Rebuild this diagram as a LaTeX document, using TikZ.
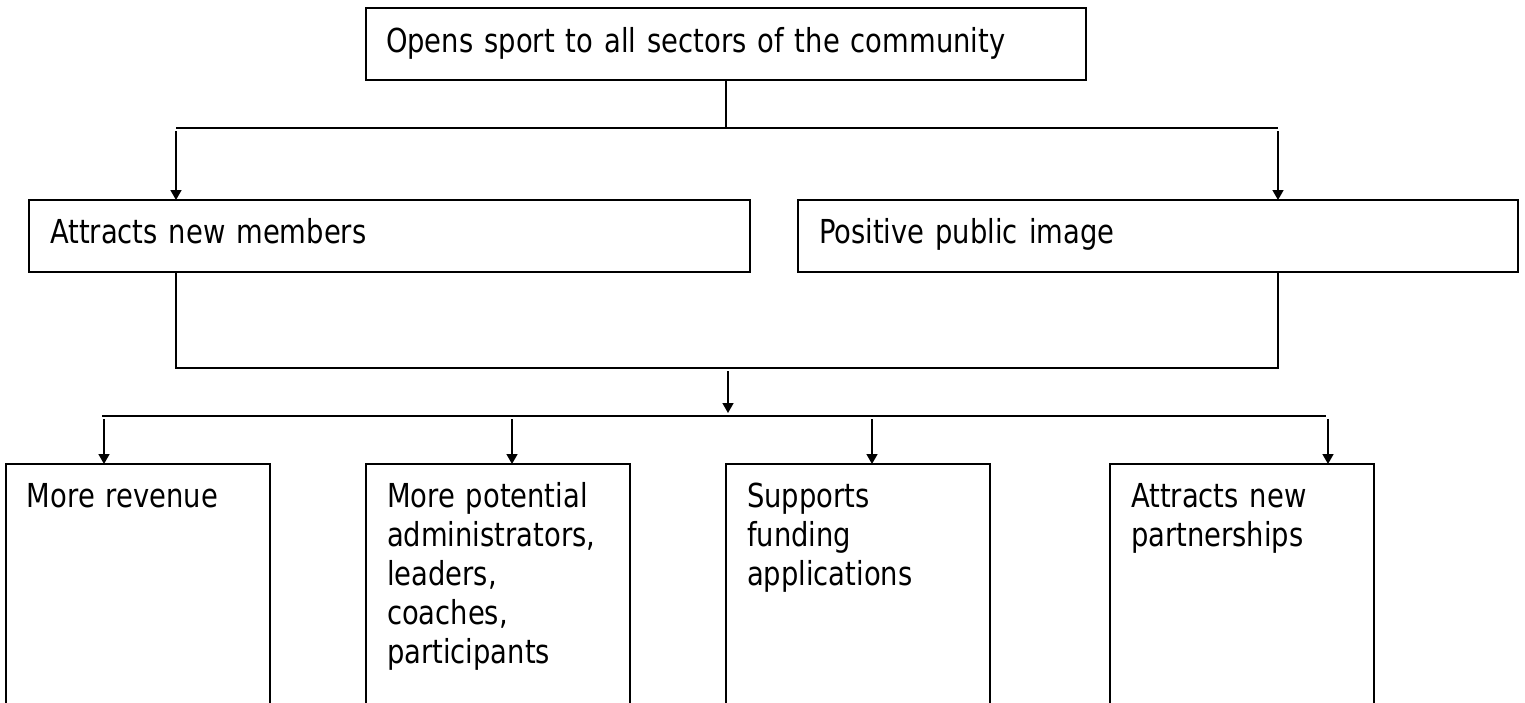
\documentclass[tikz,border=0pt]{standalone}
\usepackage{fontspec}
\setmainfont{DejaVu Sans}[FakeStretch=0.83]
\usepackage{tikz}
\usetikzlibrary{arrows.meta}
\usepackage{xcolor}
\definecolor{boxline}{RGB}{0,0,0}

\begin{document}
\begin{tikzpicture}[x=1pt, y=-1pt, >={Triangle[width=11pt,length=10pt]},
    boxed/.style={draw=boxline, line width=2.2pt, anchor=north west, align=left,
        outer sep=0pt, inner xsep=21pt, inner ysep=0pt,
        text height=43pt, text depth=29pt,
        font=\fontsize{33pt}{39pt}\selectfont},
    tall/.style={text width=222pt, text depth=300pt},
    wire/.style={draw=boxline, line width=1.6pt},
    wirearrow/.style={wire, ->, shorten <=3pt}]
    \clip (0,0) rectangle (1525,702);
    \fill[white] (0,0) rectangle (1525,702);
    \node[boxed, inner xsep=20pt, text width=680pt, text height=44pt, text depth=28pt]
    (a) at (366,8) {Opens sport to all sectors of the community};
    %
    \node[boxed, text width=679pt] (b1) at
    ([xshift=-337pt, yshift=-120pt]a.south west) {Attracts new members};
    \node[boxed, text width=678pt] (b2) at
    ([xshift=48pt]b1.north east) {Positive public image};
    %
    \node[boxed, tall] (c1) at
    ([xshift=-23pt, yshift=-192pt]b1.south west) {More revenue};
    \node[boxed, tall] (c2) at
    ([xshift=96pt]c1.north east) {More potential\\ administrators,\\ leaders,\\ coaches,\\ participants};
    \node[boxed, tall] (c3) at
    ([xshift=96pt]c2.north east) {Supports\\ funding\\ applications};
    \node[boxed, tall] (c4) at
    ([xshift=120pt]c3.north east) {Attracts new\\ partnerships};
    %
    \coordinate (bus1l) at (176,128);
    \coordinate (bus1r) at (1278,128);
    \draw[wire] (a.south) -- (a.south |- bus1l);
    \draw[wire] (bus1l) -- (bus1r);
    \draw[wirearrow] (bus1l) -- (b1.north -| bus1l);
    \draw[wirearrow] (bus1r) -- (b2.north -| bus1r);
    %
    \coordinate (join) at (728,368);
    \coordinate (bus2l) at (102,416);
    \coordinate (bus2r) at (1326,416);
    \draw[wire] (b1.south -| bus1l) |- (join) -| (b2.south -| bus1r);
    \draw[wirearrow, shorten >=3pt] (join) -- (join |- bus2l);
    \draw[wire] (bus2l) -- (bus2r);
    \foreach \n/\x in {c1/104, c2/512, c3/872, c4/1328}{
        \coordinate (t\n) at (\x,416);
        \draw[wirearrow] (t\n) -- (t\n |- \n.north);
    }
\end{tikzpicture}
\end{document}
